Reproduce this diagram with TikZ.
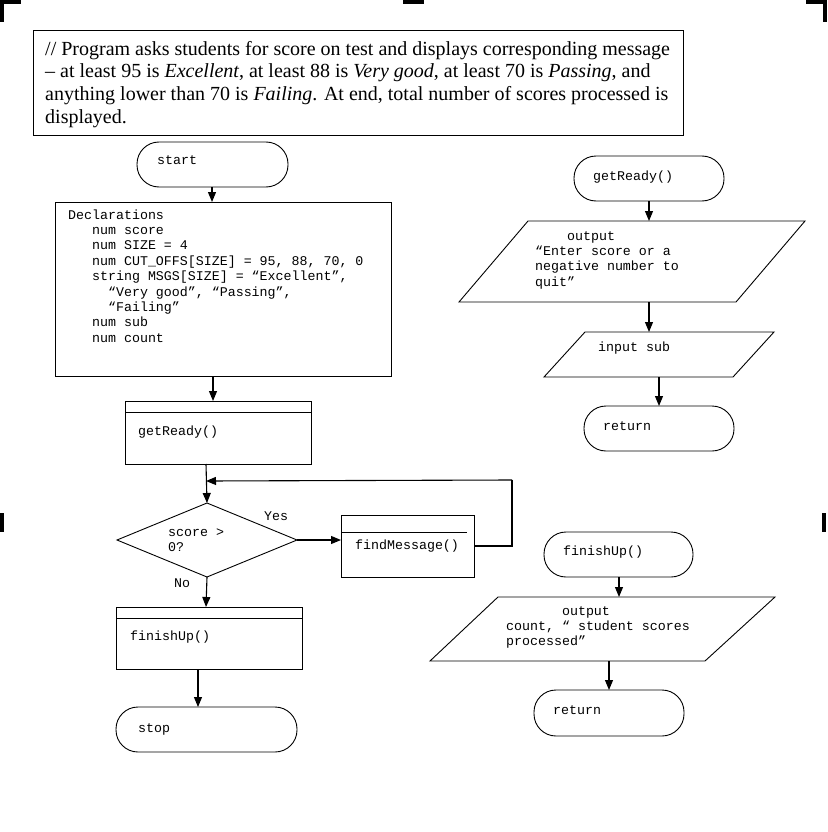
\documentclass[tikz,border=0pt]{standalone}
\usepackage{fontspec}
\setmainfont{Liberation Serif}
\newfontfamily\codefont{Liberation Mono}
\usetikzlibrary{arrows.meta}
\begin{document}
\begin{tikzpicture}[x=1pt,y=-1pt,
  shape line/.style={draw=black,line width=0.9pt},
  term/.style={shape line,rectangle,rounded corners=22pt,inner sep=0pt,outer sep=0pt},
  proc/.style={shape line,rectangle,inner sep=0pt,outer sep=0pt},
  iobox/.style={rectangle,inner sep=0pt,outer sep=0pt},
  decision/.style={inner sep=0pt,outer sep=0pt},
  code/.style={inner sep=0pt,anchor=base west,font=\codefont\fontsize{13.3}{15.4}\selectfont,align=left},
  codeml/.style={code,anchor=north west},
  flow/.style={line width=1.1pt,-{Triangle[length=10pt,width=8pt]}},
  plainline/.style={line width=1.1pt},
  cropmark/.style={fill=black,draw=none}]
\useasboundingbox (0,0) rectangle (827,832);
% crop marks
\fill[cropmark] (0,0) rectangle (21,4);
\fill[cropmark] (0,0) rectangle (4,22);
\fill[cropmark] (403,0) rectangle (424,4);
\fill[cropmark] (806,0) rectangle (827,4);
\fill[cropmark] (823,0) rectangle (827,22);
\fill[cropmark] (0,513) rectangle (4,532);
\fill[cropmark] (822,513) rectangle (826,532);

% header comment
\node[draw=black,line width=0.9pt,minimum width=650pt,minimum height=105pt,inner sep=0pt] (hdr) at (358,82.5) {};
\node[anchor=north west,inner sep=0pt,align=left,font=\fontsize{20}{22.7}\selectfont] (hdrtxt) at (45,39.1)
{\strut// Program asks students for score on test and displays corresponding message\\
– at least 95 is \textit{Excellent}, at least 88 is \textit{Very good}, at least 70 is \textit{Passing}, and\\
anything lower than 70 is \textit{Failing}. At end, total number of scores processed is\\
displayed.};

% main flow
\node[term,minimum width=151pt,minimum height=45pt] (start) at (212.5,164.5) {};
\node[code] (starttxt) at (157,164) {start};

\node[proc,minimum width=336pt,minimum height=174pt] (decl) at (223,289) {};
\node[codeml] (decltxt) at (68,208.2) {\strut Declarations\\
\ \ \ num score\\
\ \ \ num SIZE = 4\\
\ \ \ num CUT\_OFFS[SIZE] = 95, 88, 70, 0\\
\ \ \ string MSGS[SIZE] = “Excellent”,\\
\ \ \ \ \ “Very good”, “Passing”,\\
\ \ \ \ \ “Failing”\\
\ \ \ num sub\\
\ \ \ num count};

\node[proc,minimum width=186pt,minimum height=63pt] (gr) at (218,432.5) {};
\draw[line width=0.9pt] (125,412) -- (311,412);
\node[code] (grtxt) at (138,435) {getReady()};

\node[decision,minimum width=180pt,minimum height=74pt] (dec) at (207,540) {};
\draw[shape line] (dec.west) -- (dec.north) -- (dec.east) -- (dec.south) -- cycle;
\node[codeml] (dectxt) at (168,525.2) {\strut score >\\0?};
\node[code] (yes) at (264,520) {Yes};
\node[code] (no) at (174,587) {No};

\node[proc,minimum width=133pt,minimum height=62pt] (fm) at (407.5,546) {};
\draw[line width=0.9pt] (341,532) -- (467,532);
\node[code] (fmtxt) at (355,549) {findMessage()};

\node[proc,minimum width=186pt,minimum height=62pt] (fu) at (209,638) {};
\draw[line width=0.9pt] (116,618) -- (302,618);
\node[code] (futxt) at (130,640) {finishUp()};

\node[term,minimum width=181pt,minimum height=45pt] (stop) at (206.5,729.5) {};
\node[code] (stoptxt) at (138,732) {stop};

\coordinate (loopR) at (512,480);

\draw[flow] (212,187) -- (212,202);
\draw[flow] (213,376) -- (213,401);
\draw[flow] (206,464) -- (dec.north);
\draw[flow] (dec.east) -- (fm.west |- dec.east);
\draw[plainline] (fm.east |- 0,546) -- (512,546) -- (loopR);
\draw[flow] (loopR) -- (206,481);
\draw[flow] (dec.south) -- (206,607);
\draw[flow] (198,669) -- (198,707);

% getReady module
\node[term,minimum width=150pt,minimum height=45pt] (gr2) at (649,178.5) {};
\node[code] (gr2txt) at (593,180) {getReady()};

\node[iobox,minimum width=346pt,minimum height=81pt] (out1) at (632,261.5) {};
\draw[shape line] ([xshift=69pt]out1.north west) -- (out1.north east) -- ([xshift=-69pt]out1.south east) -- (out1.south west) -- cycle;
\node[codeml] (out1txt) at (535,229.2) {\strut\ \ \ \ output\\“Enter score or a\\negative number to\\quit”};

\node[iobox,minimum width=230pt,minimum height=45pt] (in1) at (659,354.5) {};
\draw[shape line] ([xshift=41pt]in1.north west) -- (in1.north east) -- ([xshift=-41pt]in1.south east) -- (in1.south west) -- cycle;
\node[code] (in1txt) at (598,351) {input sub};

\node[term,minimum width=150pt,minimum height=45pt] (ret1) at (659,428.5) {};
\node[code] (ret1txt) at (603,430) {return};

\draw[flow] (gr2.south) -- (649,221);
\draw[flow] (649,302) -- (649,332);
\draw[flow] (659,377) -- (ret1.north);

% finishUp module
\node[term,minimum width=149pt,minimum height=45pt] (fu2) at (618.5,554.5) {};
\node[code] (fu2txt) at (563,555) {finishUp()};

\node[iobox,minimum width=345pt,minimum height=64pt] (out2) at (602.5,629) {};
\draw[shape line] ([xshift=68pt]out2.north west) -- (out2.north east) -- ([xshift=-70pt]out2.south east) -- (out2.south west) -- cycle;
\node[codeml] (out2txt) at (506,604.2) {\strut\ \ \ \ \ \ \ output\\count, “ student scores\\processed”};

\node[term,minimum width=150pt,minimum height=46pt] (ret2) at (609,713) {};
\node[code] (ret2txt) at (553,714) {return};

\draw[flow] (619,577) -- (619,597);
\draw[flow] (609,661) -- (ret2.north);
\end{tikzpicture}
\end{document}
